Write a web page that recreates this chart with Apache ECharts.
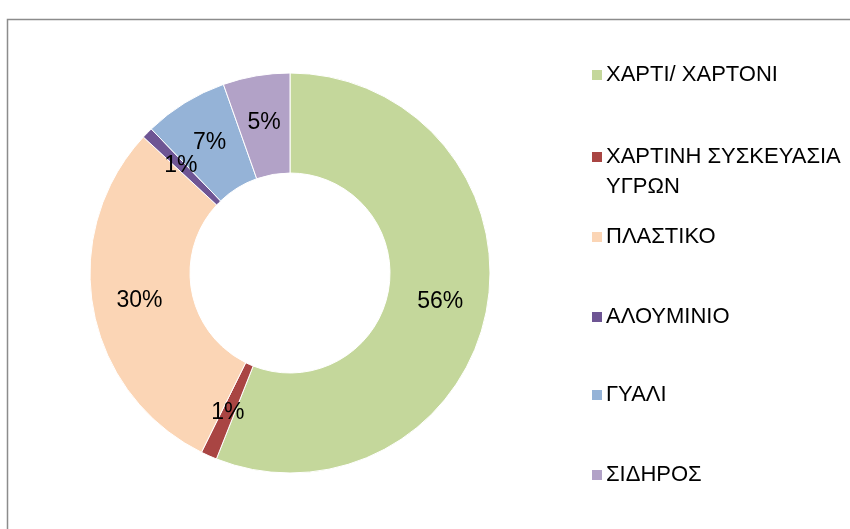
<!DOCTYPE html>
<html>
<head>
<meta charset="utf-8">
<script src="https://cdn.jsdelivr.net/npm/echarts@6/dist/echarts.min.js"></script>
<style>
  html, body { margin: 0; padding: 0; background: #fff; }
  #chart { width: 850px; height: 529px; }
</style>
</head>
<body>
<div id="chart"></div>
<script>
// ποσοστά ανά υλικό (δεξιόστροφα από τις 12)
const categories = ['ΧΑΡΤΙ/ ΧΑΡΤΟΝΙ', 'ΧΑΡΤΙΝΗ ΣΥΣΚΕΥΑΣΙΑ ΥΓΡΩΝ', 'ΠΛΑΣΤΙΚΟ', 'ΑΛΟΥΜΙΝΙΟ', 'ΓΥΑΛΙ', 'ΣΙΔΗΡΟΣ']
const legendText = ['ΧΑΡΤΙ/ ΧΑΡΤΟΝΙ', 'ΧΑΡΤΙΝΗ ΣΥΣΚΕΥΑΣΙΑ\nΥΓΡΩΝ', 'ΠΛΑΣΤΙΚΟ', 'ΑΛΟΥΜΙΝΙΟ', 'ΓΥΑΛΙ', 'ΣΙΔΗΡΟΣ']
const shares = [56.0, 1.3, 29.6, 0.9, 6.8, 5.4]
const colors = ['#C4D79B', '#A94543', '#FBD5B5', '#6E5594', '#95B3D7', '#B2A2C7']

const font = 'Liberation Sans'
const legendTops = [70, 152, 232, 312, 390, 470]

const chart = echarts.init(document.getElementById('chart'))

// ένα legend ανά στοιχείο ώστε να μπαίνει ακριβώς στη θέση του
const legends = categories.map((name, i) => {
  const twoLines = legendText[i].includes('\n')
  return {
    orient: 'vertical',
    left: 585,
    top: legendTops[i] - (twoLines ? 45 : 15),
    data: [name],
    icon: 'rect',
    itemWidth: 12,
    itemHeight: 12,
    itemGap: 0,
    selectedMode: false,
    // κενή πρώτη γραμμή: το εικονίδιο κεντράρεται στη μεσαία = πρώτη ορατή
    formatter: () => (twoLines ? '\u00a0\n' : '') + legendText[i],
    textStyle: {
      fontFamily: font,
      fontSize: 22,
      color: '#000',
      lineHeight: 30,
      padding: [0, 0, 0, -2],
    },
  }
})

chart.setOption({
  animation: false,
  color: colors,
  legend: legends,
  graphic: [
    {
      type: 'rect',
      shape: { x: 7.5, y: 19.5, width: 900, height: 600 },
      style: { fill: 'none', stroke: '#8c8c8c', lineWidth: 1.5 },
      silent: true,
    },
  ],
  series: [
    {
      type: 'pie',
      center: [290, 273],
      radius: [100, 200],
      startAngle: 90,
      clockwise: true,
      avoidLabelOverlap: false,
      itemStyle: { borderColor: '#fff', borderWidth: 1 },
      label: {
        show: true,
        position: 'inside',
        formatter: (p) => Math.round(p.value) + '%',
        fontFamily: font,
        fontSize: 23,
        color: '#000',
      },
      labelLine: { show: false },
      emphasis: { disabled: true },
      data: categories.map((name, i) => ({ name, value: shares[i] })),
    },
  ],
})
</script>
</body>
</html>
